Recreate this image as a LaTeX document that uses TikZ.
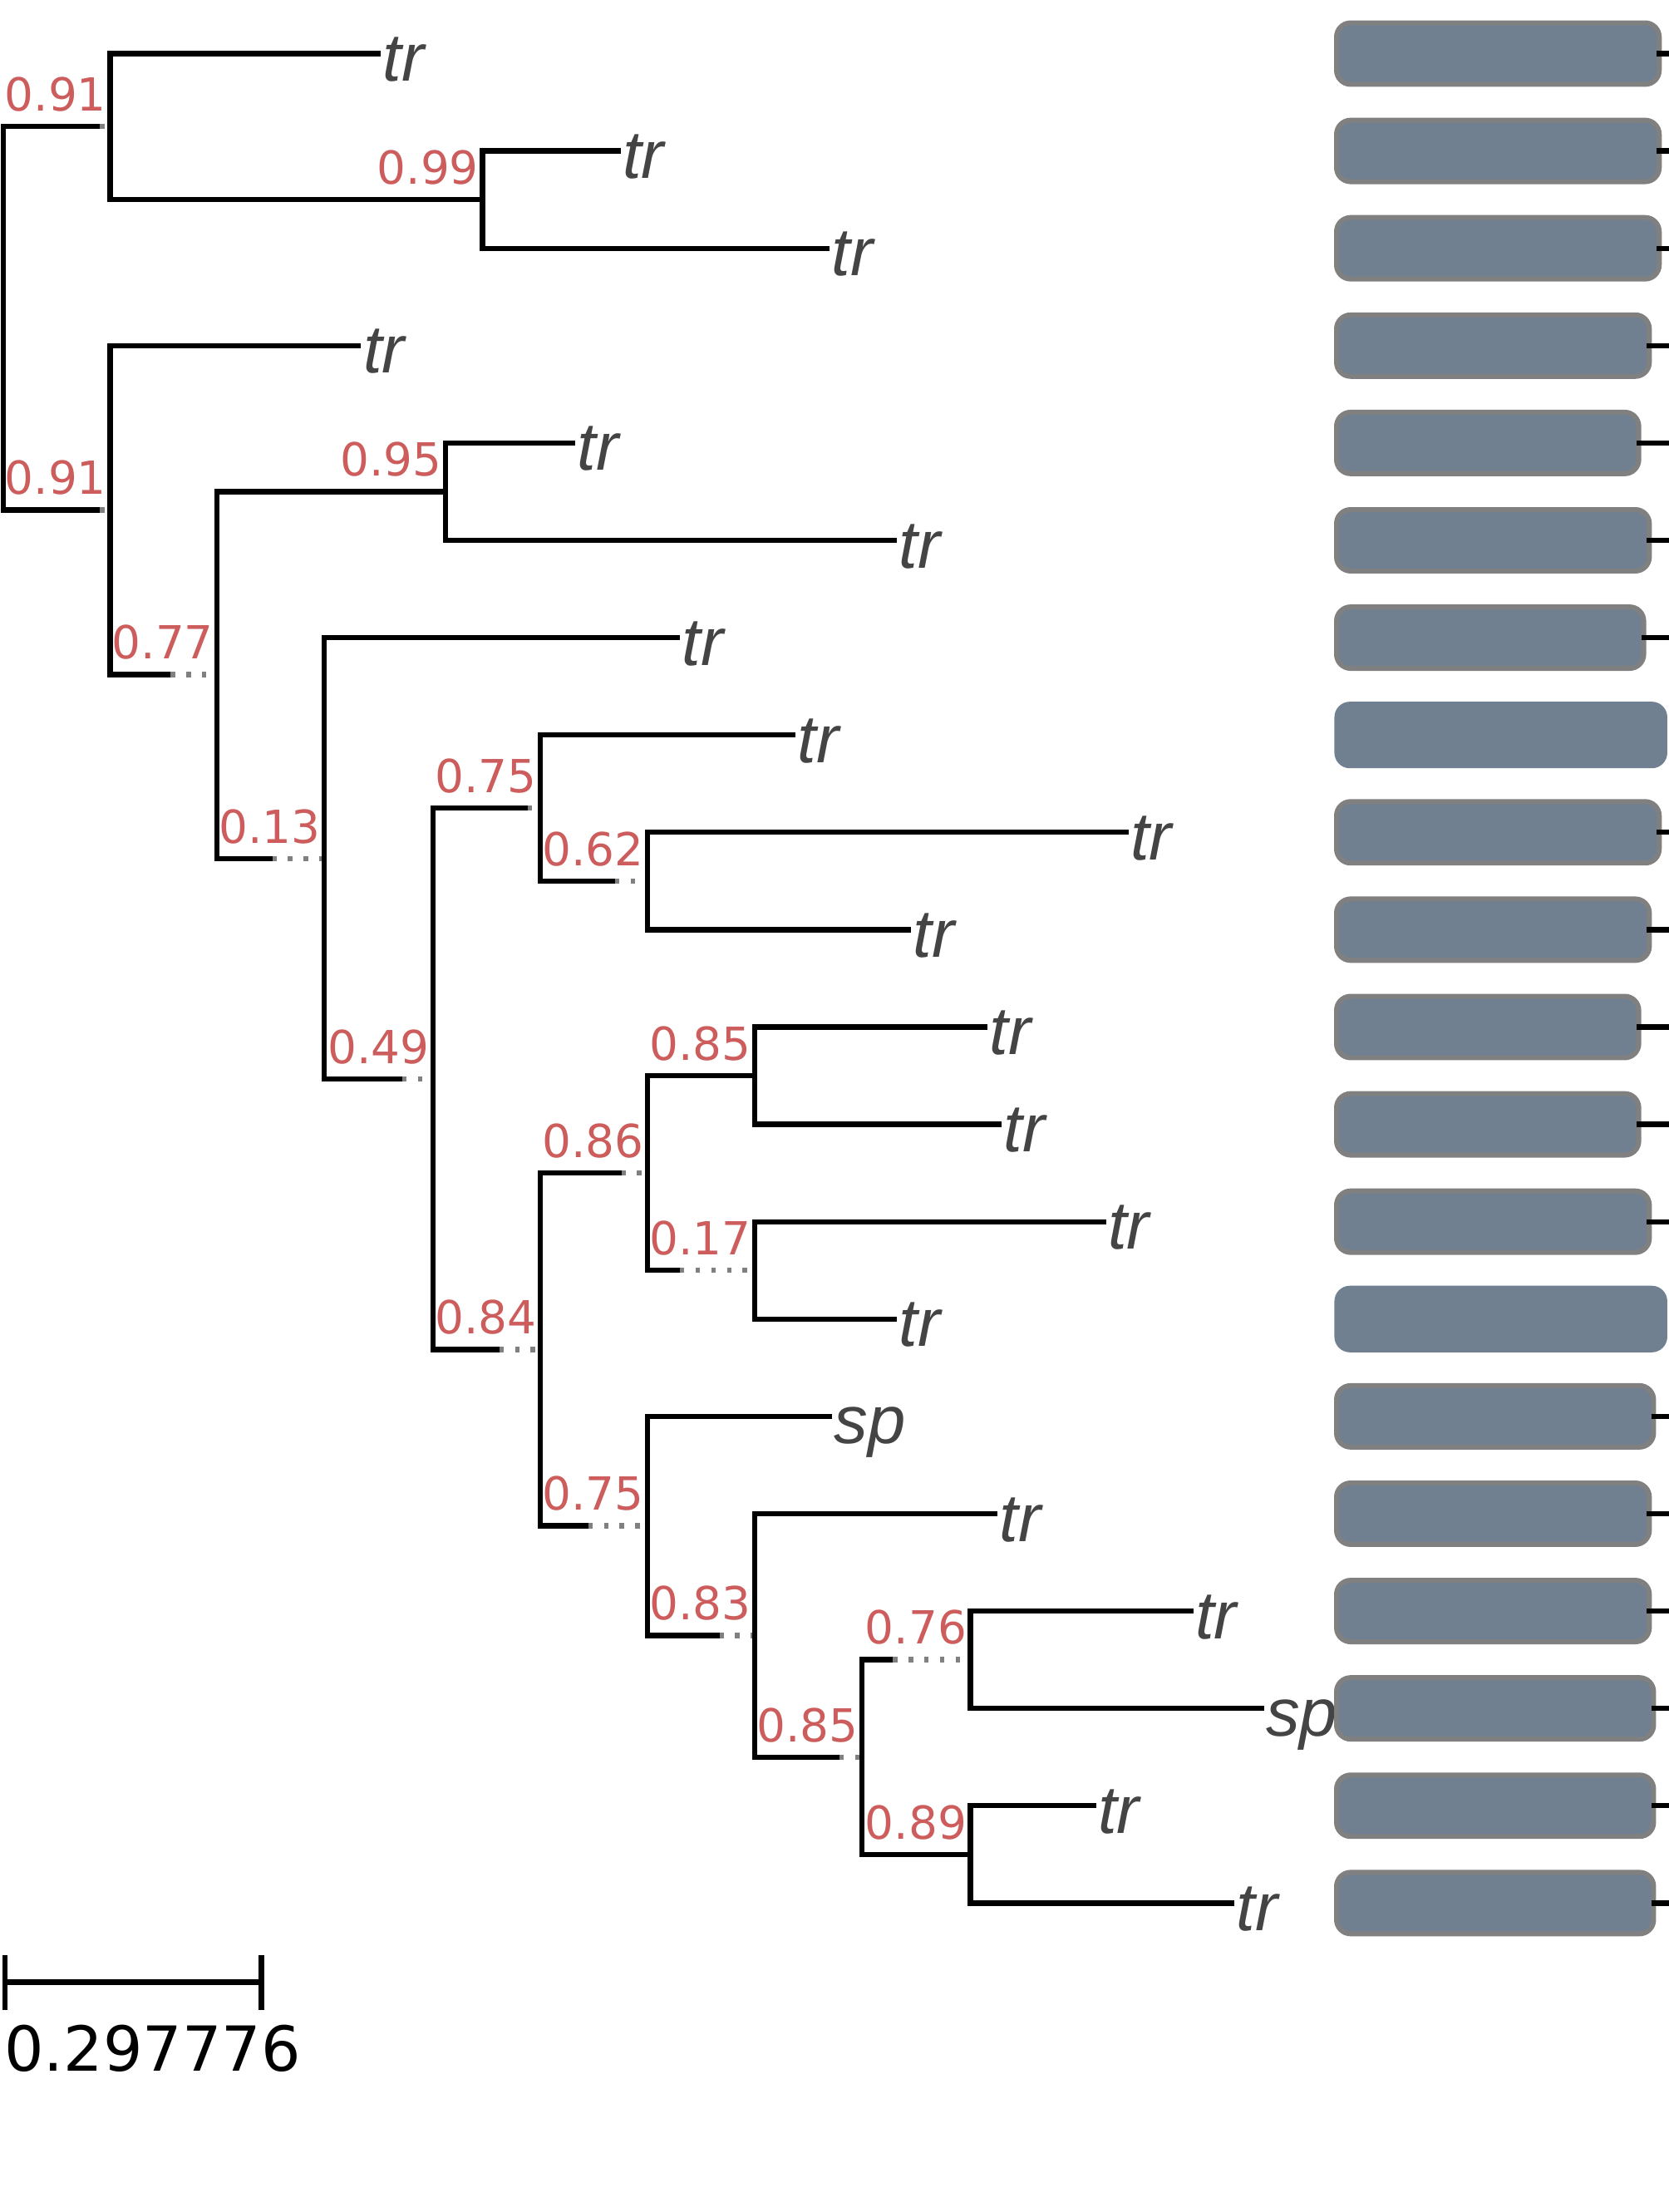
\documentclass[tikz,border=0pt]{standalone}
\usepackage{fontspec}
\usepackage{tikz}
\usetikzlibrary{calc}

\newfontfamily\leaffont{Liberation Sans}
\newfontfamily\suppfont{DejaVu Sans}
\definecolor{slate}{RGB}{112,128,144}
\definecolor{rimgray}{RGB}{128,128,128}
\definecolor{dotgray}{RGB}{128,128,128}
\definecolor{suppred}{RGB}{205,92,92}
\definecolor{leafgray}{RGB}{68,68,68}

\begin{document}
\begin{tikzpicture}[
    x=1pt, y=-1pt,
    br/.style={line width=3.7pt},
    ext/.style={draw=dotgray, line width=3.7pt, dash pattern=on 3.2pt off 7.9pt},
    leaf/.style={anchor=west, inner ysep=0pt, inner xsep=1.5pt, outer sep=0pt, text height=39pt, text depth=0pt, text=leafgray, font=\leaffont\itshape\fontsize{48}{48}\selectfont},
    supp/.style={anchor=base east, inner sep=0pt, xshift=-2.5pt, yshift=11pt, text=suppred, font=\suppfont\fontsize{32.3}{32.3}\selectfont},
    face/.style={draw=rimgray, fill=slate, line width=3.5pt, rounded corners=10pt, minimum height=43.6pt, inner sep=0pt, outer sep=0pt, anchor=west},
    plainface/.style={fill=slate, rounded corners=11pt, minimum height=47.2pt, minimum width=236pt, inner sep=0pt, outer sep=0pt, anchor=west}
]
\useasboundingbox (0,0) rectangle (1183,1568);

% leaves
\node[leaf] (t1) at (270,38) {tr};
\node[leaf] (t2) at (440,107) {tr};
\node[leaf] (t3) at (588,176) {tr};
\node[leaf] (t4) at (256,245) {tr};
\node[leaf] (t5) at (408,314) {tr};
\node[leaf] (t6) at (636,383) {tr};
\node[leaf] (t7) at (482,452) {tr};
\node[leaf] (t8) at (564,521) {tr};
\node[leaf] (t9) at (800,590) {tr};
\node[leaf] (t10) at (646,659) {tr};
\node[leaf] (t11) at (700,728) {tr};
\node[leaf] (t12) at (710,797) {tr};
\node[leaf] (t13) at (784,866) {tr};
\node[leaf] (t14) at (636,935) {tr};
\node[leaf] (t15) at (590,1004) {sp};
\node[leaf] (t16) at (707,1073) {tr};
\node[leaf] (t17) at (846,1142) {tr};
\node[leaf] (t18) at (896,1211) {sp};
\node[leaf] (t19) at (777,1280) {tr};
\node[leaf] (t20) at (875,1349) {tr};

% inner nodes
\coordinate (root) at (2.2,225.6);
\coordinate (nA) at (78,89.75);
\coordinate (nB) at (342,141.5);
\coordinate (nC) at (78,361.5);
\coordinate (nD) at (154,478.25);
\coordinate (nE) at (316,348.5);
\coordinate (nF) at (230,608.5);
\coordinate (nG) at (307,764.7);
\coordinate (nH) at (383,572.75);
\coordinate (nI) at (459,624.5);
\coordinate (nJ) at (383,956.6);
\coordinate (nK) at (459,831.5);
\coordinate (nL) at (535,762.5);
\coordinate (nM) at (535,900.5);
\coordinate (nN) at (459,1081.6);
\coordinate (nO) at (535,1159.3);
\coordinate (nP) at (611,1245.5);
\coordinate (nQ) at (688,1176.5);
\coordinate (nR) at (688,1314.5);

% where the solid part of a stretched branch stops
\coordinate (eA) at (71,89.75);
\coordinate (eC) at (71,361.5);
\coordinate (eD) at (121,478.25);
\coordinate (eF) at (193,608.5);
\coordinate (eG) at (285,764.7);
\coordinate (eH) at (374,572.75);
\coordinate (eI) at (436,624.5);
\coordinate (eJ) at (354,956.6);
\coordinate (eK) at (440.5,831.5);
\coordinate (eM) at (482,900.5);
\coordinate (eN) at (417,1081.6);
\coordinate (eO) at (510,1159.3);
\coordinate (eP) at (595,1245.5);
\coordinate (eQ) at (633,1176.5);

% stretched parts
\foreach \n in {A,C,D,F,G,H,I,J,K,M,N,O,P,Q}
    \draw[ext] (e\n) -- (n\n);

% branches
\draw[br] (root) |- (eA);
\draw[br] (root) |- (eC);
\draw[br] (nA) |- (t1.west);
\draw[br] (nA) |- (nB);
\draw[br] (nB) |- (t2.west);
\draw[br] (nB) |- (t3.west);
\draw[br] (nC) |- (t4.west);
\draw[br] (nC) |- (eD);
\draw[br] (nD) |- (nE);
\draw[br] (nD) |- (eF);
\draw[br] (nE) |- (t5.west);
\draw[br] (nE) |- (t6.west);
\draw[br] (nF) |- (t7.west);
\draw[br] (nF) |- (eG);
\draw[br] (nG) |- (eH);
\draw[br] (nG) |- (eJ);
\draw[br] (nH) |- (t8.west);
\draw[br] (nH) |- (eI);
\draw[br] (nI) |- (t9.west);
\draw[br] (nI) |- (t10.west);
\draw[br] (nJ) |- (eK);
\draw[br] (nJ) |- (eN);
\draw[br] (nK) |- (nL);
\draw[br] (nK) |- (eM);
\draw[br] (nL) |- (t11.west);
\draw[br] (nL) |- (t12.west);
\draw[br] (nM) |- (t13.west);
\draw[br] (nM) |- (t14.west);
\draw[br] (nN) |- (t15.west);
\draw[br] (nN) |- (eO);
\draw[br] (nO) |- (t16.west);
\draw[br] (nO) |- (eP);
\draw[br] (nP) |- (eQ);
\draw[br] (nP) |- (nR);
\draw[br] (nQ) |- (t17.west);
\draw[br] (nQ) |- (t18.west);
\draw[br] (nR) |- (t19.west);
\draw[br] (nR) |- (t20.west);

% support values
\node[supp] (sA) at (nA) {0.91};
\node[supp] (sB) at (nB) {0.99};
\node[supp] (sC) at (nC) {0.91};
\node[supp] (sD) at (nD) {0.77};
\node[supp] (sE) at (nE) {0.95};
\node[supp] (sF) at (nF) {0.13};
\node[supp] (sG) at (nG) {0.49};
\node[supp] (sH) at (nH) {0.75};
\node[supp] (sI) at (nI) {0.62};
\node[supp] (sJ) at (nJ) {0.84};
\node[supp] (sK) at (nK) {0.86};
\node[supp] (sL) at (nL) {0.85};
\node[supp] (sM) at (nM) {0.17};
\node[supp] (sN) at (nN) {0.75};
\node[supp] (sO) at (nO) {0.83};
\node[supp] (sP) at (nP) {0.85};
\node[supp] (sQ) at (nQ) {0.76};
\node[supp] (sR) at (nR) {0.89};

% faces on the right
\foreach \i/\w in {1/228.8, 2/228.8, 3/228.8, 4/221.8, 5/214.3, 6/221.8, 7/217.8,
                   9/228.8, 10/221.8, 11/214.3, 12/214.3, 13/221.8, 15/224.8,
                   16/221.8, 17/221.8, 18/224.8, 19/224.8, 20/224.8} {
    \node[face, minimum width=\w pt] (f\i) at (947.5,{38+69*(\i-1)}) {};
    \coordinate (r\i) at (1183,{38+69*(\i-1)});
    \draw[br] ([xshift=-1.75pt]f\i.east) -- (r\i);
}
\node[plainface] (f8) at (946,521) {};
\node[plainface] (f14) at (946,935) {};

% scale bar
\coordinate (sb1) at (3.5,1405);
\coordinate (sb2) at (185.3,1405);
\draw[br] (sb1) -- (sb2);
\draw[br] ([yshift=19pt]sb1) -- ([yshift=-20pt]sb1);
\draw[br] ([yshift=19pt]sb2) -- ([yshift=-20pt]sb2);
\node[anchor=base west, inner sep=0pt, font=\suppfont\fontsize{44}{44}\selectfont] (sbl) at (3,1468) {0.297776};
\end{tikzpicture}
\end{document}
